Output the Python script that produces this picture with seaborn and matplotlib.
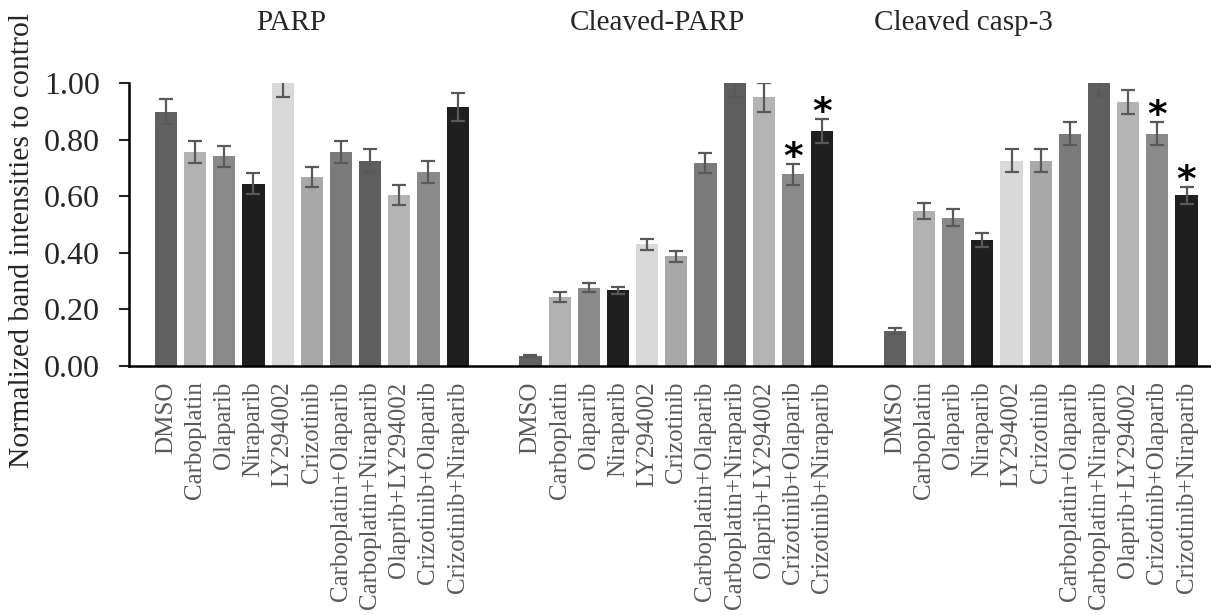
import numpy as np
import pandas as pd
import matplotlib
matplotlib.use("Agg")
import matplotlib.pyplot as plt
import seaborn as sns

treatments = ["DMSO", "Carboplatin", "Olaparib", "Niraparib", "LY294002", "Crizotinib",
              "Carboplatin+Olaparib", "Carboplatin+Niraparib", "Olaprib+LY294002",
              "Crizotinib+Olaparib", "Crizotinib+Niraparib"]
groups = ["PARP", "Cleaved-PARP", "Cleaved casp-3"]

parp_vals = [0.90, 0.757, 0.742, 0.645, 1.00, 0.669, 0.757, 0.726, 0.605, 0.686, 0.917]
parp_err = [0.045, 0.040, 0.037, 0.037, 0.050, 0.035, 0.040, 0.041, 0.036, 0.040, 0.050]
cparp_vals = [0.036, 0.245, 0.277, 0.268, 0.430, 0.388, 0.717, 1.00, 0.950, 0.678, 0.830]
cparp_err = [0.004, 0.017, 0.017, 0.012, 0.021, 0.020, 0.036, 0.047, 0.050, 0.036, 0.042]
casp_vals = [0.124, 0.549, 0.525, 0.446, 0.726, 0.726, 0.822, 1.00, 0.934, 0.822, 0.604]
casp_err = [0.010, 0.028, 0.030, 0.026, 0.041, 0.040, 0.040, 0.045, 0.043, 0.040, 0.030]

significant = {"Cleaved-PARP": ["Crizotinib+Olaparib", "Crizotinib+Niraparib"],
               "Cleaved casp-3": ["Crizotinib+Olaparib", "Crizotinib+Niraparib"]}

colors = ["#606060", "#b2b2b2", "#8a8a8a", "#1f1f1f", "#d9d9d9", "#a8a8a8",
          "#7b7b7b", "#5e5e5e", "#b4b4b4", "#8a8a8a", "#1f1f1f"]

group_step = 12.5
rows = []
for g, (name, vals, errs) in enumerate(zip(groups, [parp_vals, cparp_vals, casp_vals],
                                           [parp_err, cparp_err, casp_err])):
    for i, t in enumerate(treatments):
        rows.append({"group": name, "treatment": t, "pos": g * group_step + i,
                     "value": vals[i], "err": errs[i], "slot": i})
df = pd.DataFrame(rows)

sns.set_style("white")
plt.rcParams["font.family"] = ["Liberation Serif", "DejaVu Serif"]

fig = plt.figure(figsize=(12.11, 6.15), dpi=100)
ax = fig.add_axes([129 / 1211, 249 / 615, 1 - 129 / 1211, (531.7 - 249) / 615])

palette = {f"{s}": colors[s] for s in range(len(treatments))}
df["slot_s"] = df["slot"].astype(str)
sns.barplot(data=df, x="pos", y="value", hue="slot_s", palette=palette,
            native_scale=True, dodge=False, width=0.76, errorbar=None,
            legend=False, ax=ax, saturation=1, linewidth=0)

ax.errorbar(df["pos"], df["value"], yerr=df["err"], fmt="none", ecolor="#595959",
            elinewidth=1.6, capsize=5, capthick=1.6, zorder=5)

for _, r in df.iterrows():
    if r["treatment"] in significant.get(r["group"], []):
        ax.text(r["pos"], r["value"] + r["err"] + 0.022, "*", ha="center", va="center",
                fontsize=27, fontweight="bold", family="DejaVu Sans", color="black")

ax.set_ylim(0, 1.0)
ax.set_xlim(-1.27, 35.84)
ax.set_yticks([0, 0.2, 0.4, 0.6, 0.8, 1.0])
ax.set_yticklabels([f"{v:.2f}" for v in [0, 0.2, 0.4, 0.6, 0.8, 1.0]])
ax.set_xticks(df["pos"])
ax.set_xticklabels(df["treatment"], rotation=90, fontsize=18, color="#595959")
ax.tick_params(axis="x", length=0, pad=11)
ax.tick_params(axis="y", length=7, width=1.5, pad=14, labelsize=23, direction="out", left=True)
ax.set_xlabel("")
ax.set_ylabel("")
for s in ["top", "right"]:
    ax.spines[s].set_visible(False)
for s in ["left", "bottom"]:
    ax.spines[s].set_color("black")
    ax.spines[s].set_linewidth(1.8)

fig.text(22 / 1211, 1 - 240 / 615, "Normalized band intensities to control",
         rotation=90, ha="center", va="center", fontsize=21.3)
for name, xc in zip(groups, [291, 657, 963]):
    fig.text(xc / 1211, 1 - 23 / 615, name, ha="center", va="center", fontsize=21)

fig.savefig("out.png", dpi=100)
